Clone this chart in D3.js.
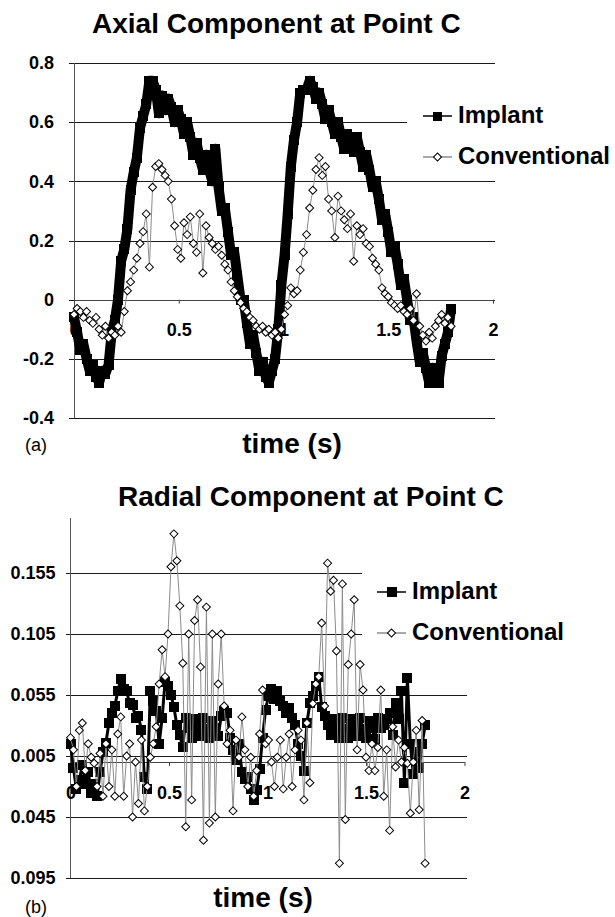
<!DOCTYPE html>
<html>
<head>
<meta charset="utf-8">
<script src="https://d3js.org/d3.v7.min.js"></script>
<style>
  body { margin: 0; background: #fff; }
</style>
</head>
<body>
<script>
/** Data: sample times (s), shared by both panels */
const time = [
  0, 0.015, 0.03, 0.045, 0.06, 0.075, 0.09, 0.105, 0.12, 0.135,
  0.15, 0.165, 0.18, 0.195, 0.21, 0.225, 0.24, 0.255, 0.27, 0.285,
  0.3, 0.315, 0.33, 0.345, 0.36, 0.375, 0.39, 0.405, 0.42, 0.435,
  0.45, 0.465, 0.48, 0.495, 0.51, 0.525, 0.54, 0.555, 0.57, 0.585,
  0.6, 0.615, 0.63, 0.645, 0.66, 0.675, 0.69, 0.705, 0.72, 0.735,
  0.75, 0.765, 0.78, 0.795, 0.81, 0.825, 0.84, 0.855, 0.87, 0.885,
  0.9, 0.915, 0.93, 0.945, 0.96, 0.975, 0.99, 1.005, 1.02, 1.035,
  1.05, 1.065, 1.08, 1.095, 1.11, 1.125, 1.14, 1.155, 1.17, 1.185,
  1.2, 1.215, 1.23, 1.245, 1.26, 1.275, 1.29, 1.305, 1.32, 1.335,
  1.35, 1.365, 1.38, 1.395, 1.41, 1.425, 1.44, 1.455, 1.47, 1.485,
  1.5, 1.515, 1.53, 1.545, 1.56, 1.575, 1.59, 1.605, 1.62, 1.635,
  1.65, 1.665, 1.68, 1.695, 1.71, 1.725, 1.74, 1.755, 1.77, 1.785,
  1.8
];

/** (a) axial component */
const axialImplant = [
  -0.06, -0.11, -0.17, -0.15, -0.20, -0.24, -0.22, -0.26, -0.28, -0.24,
  -0.25, -0.22, -0.11, -0.07, 0.00, 0.13, 0.17, 0.24, 0.37, 0.43,
  0.48, 0.58, 0.62, 0.66, 0.74, 0.74, 0.71, 0.63, 0.69, 0.64,
  0.68, 0.65, 0.60, 0.64, 0.61, 0.56, 0.60, 0.55, 0.49, 0.53,
  0.48, 0.44, 0.49, 0.44, 0.40, 0.51, 0.38, 0.30, 0.31, 0.23,
  0.15, 0.16, 0.08, 0.00, 0.00, -0.08, -0.15, -0.12, -0.18, -0.24,
  -0.21, -0.26, -0.28, -0.24, -0.20, -0.10, 0.05, 0.15, 0.29, 0.45,
  0.54, 0.60, 0.70, 0.71, 0.71, 0.74, 0.72, 0.68, 0.70, 0.66,
  0.61, 0.64, 0.60, 0.56, 0.60, 0.55, 0.51, 0.56, 0.52, 0.50,
  0.55, 0.50, 0.45, 0.49, 0.44, 0.38, 0.40, 0.34, 0.27, 0.29,
  0.23, 0.16, 0.18, 0.12, 0.05, 0.07, 0.00, -0.07, -0.06, -0.14,
  -0.21, -0.18, -0.23, -0.28, -0.23, -0.27, -0.28, -0.19, -0.15, -0.11,
  -0.03
];
const axialConventional = [
  -0.05, -0.03, -0.04, -0.06, -0.04, -0.07, -0.08, -0.06, -0.10, -0.12,
  -0.09, -0.13, -0.11, -0.12, -0.09, -0.11, -0.04, 0.03, 0.06, 0.10,
  0.14, 0.19, 0.23, 0.29, 0.11, 0.38, 0.45, 0.46, 0.44, 0.42,
  0.40, 0.34, 0.25, 0.17, 0.14, 0.26, 0.22, 0.28, 0.19, 0.16,
  0.29, 0.09, 0.25, 0.21, 0.19, 0.17, 0.18, 0.15, 0.12, 0.10,
  0.06, 0.03, 0.01, -0.01, -0.03, -0.04, -0.06, -0.07, -0.09, -0.10,
  -0.09, -0.11, -0.10, -0.12, -0.11, -0.13, -0.10, -0.05, -0.02, 0.04,
  0.02, 0.03, 0.10, 0.16, 0.22, 0.31, 0.37, 0.44, 0.48, 0.42,
  0.45, 0.34, 0.30, 0.21, 0.35, 0.30, 0.27, 0.24, 0.29, 0.13,
  0.25, 0.22, 0.24, 0.19, 0.18, 0.14, 0.12, 0.10, 0.04, 0.02,
  0.01, -0.01, -0.02, -0.03, -0.02, -0.04, -0.05, -0.03, -0.07, 0.02,
  -0.09, -0.12, -0.14, -0.11, -0.13, -0.09, -0.07, -0.05, -0.08, -0.06,
  -0.09
];

/** (b) radial component */
const radialImplant = [
  0.015, -0.005, -0.022, -0.015, -0.002, -0.018, -0.008, -0.025, -0.018, -0.028,
  -0.008, 0.008, 0.016, 0.032, 0.040, 0.046, 0.058, 0.068, 0.060, 0.058,
  0.048, 0.047, 0.036, 0.038, 0.026, -0.012, -0.022, 0.058, 0.050, 0.042,
  0.015, 0.036, 0.066, 0.062, 0.055, 0.045, 0.030, 0.022, 0.012, 0.036,
  0.028, 0.020, 0.035, 0.028, 0.021, 0.036, 0.027, 0.020, 0.034, 0.028,
  0.021, 0.038, 0.042, 0.040, 0.020, 0.010, 0.002, 0.015, -0.008, -0.014,
  -0.012, -0.022, -0.031, -0.023, -0.006, 0.020, 0.043, 0.054, 0.060, 0.052,
  0.058, 0.050, 0.046, 0.040, 0.044, 0.036, 0.030, 0.015, 0.005, -0.007,
  0.032, 0.048, 0.054, 0.062, 0.070, 0.045, 0.038, 0.030, 0.022, 0.035,
  0.028, 0.020, 0.036, 0.027, 0.020, 0.035, 0.028, 0.021, 0.036, 0.027,
  0.020, 0.034, 0.028, 0.019, 0.036, 0.028, 0.030, 0.035, 0.040, 0.022,
  0.048, 0.035, 0.058, -0.017, 0.069, 0.015, -0.010, 0.008, -0.005, 0.015,
  0.030
];
const radialConventional = [
  0.020, 0.010, -0.020, 0.026, 0.032, -0.007, 0.015, 0.004, -0.001, -0.020,
  0.007, -0.028, 0.015, -0.020, 0.010, -0.028, 0.023, 0.037, -0.028, 0.005,
  0.015, -0.045, 0.000, -0.034, 0.018, -0.040, -0.020, 0.004, 0.015, 0.029,
  0.064, 0.092, 0.070, 0.105, 0.160, 0.187, 0.165, 0.128, 0.081, -0.053,
  0.105, -0.031, 0.116, 0.133, 0.078, -0.064, 0.127, -0.050, 0.105, -0.045,
  0.064, 0.105, 0.046, 0.015, 0.026, -0.040, 0.018, 0.004, 0.037, 0.010,
  -0.020, 0.004, -0.028, -0.007, 0.023, 0.059, 0.015, 0.018, 0.000, -0.020,
  0.004, 0.018, -0.022, 0.004, 0.023, -0.020, 0.010, 0.026, 0.018, -0.031,
  0.032, -0.017, 0.048, 0.064, 0.070, 0.114, 0.046, 0.163, 0.140, 0.149,
  0.091, -0.083, 0.146, -0.047, 0.080, 0.105, 0.133, 0.010, 0.080, 0.059,
  0.004, -0.007, 0.015, -0.007, 0.012, 0.059, -0.028, 0.010, -0.056, 0.029,
  -0.004, 0.018, 0.000, 0.012, -0.001, -0.042, 0.000, 0.026, -0.039, 0.034,
  -0.083
];

/** Axis ticks and labels */
const xTicks = [0, 0.5, 1, 1.5, 2];
const xTickLabels = ["0", "0.5", "1", "1.5", "2"];
const axialYTicks = [-0.4, -0.2, 0, 0.2, 0.4, 0.6, 0.8];
const axialYLabels = ["-0.4", "-0.2", "0", "0.2", "0.4", "0.6", "0.8"];
const radialYTicks = [-0.095, -0.045, 0.005, 0.055, 0.105, 0.155];
const radialYLabels = ["0.095", "0.045", "0.005", "0.055", "0.105", "0.155"];
const seriesNames = ["Implant", "Conventional"];

/** Layout */
const width = 615;
const height = 917;
const fontFamily = "'Liberation Sans', Arial, Helvetica, sans-serif";
const gridColor = "#1a1a1a";
const conventionalLine = "#8c8c8c";

const panels = [
  {
    title: "Axial Component at Point C", tag: "(a)",
    implant: axialImplant, conventional: axialConventional,
    yTicks: axialYTicks, yLabels: axialYLabels, yDomain: [-0.4, 0.8],
    xRange: [74, 493], yRange: [418, 63], yPad: 15,
    titleX: 92, titleY: 33, axisTitleX: 292, axisTitleY: 453, tagY: 451,
    legendBox: [407, 86, 208, 90], legendY: [116, 157], legendX: 423,
    square: 10, legendSquare: 9, diamond: 8, implantWidth: 10
  },
  {
    title: "Radial Component at Point C", tag: "(b)",
    implant: radialImplant, conventional: radialConventional,
    yTicks: radialYTicks, yLabels: radialYLabels, yDomain: [-0.095, 0.2],
    xRange: [70.5, 464.5], yRange: [878, 518], yPad: 10,
    titleX: 118, titleY: 506, axisTitleX: 263, axisTitleY: 907, tagY: 913,
    legendBox: [362, 560, 253, 98], legendY: [592, 633], legendX: 377,
    square: 10, legendSquare: 10, diamond: 8, implantWidth: 3
  }
];

// filled square marker
function drawSquare(sel, size) {
  return sel.attr("width", size).attr("height", size)
    .attr("fill", "#000")
    .attr("shape-rendering", "crispEdges");
}

// hollow diamond = square symbol turned by 45 degrees
function diamondPath(size) {
  return d3.symbol(d3.symbolSquare, (size * size) / 2)();
}

function drawPanel(svg, p) {
  const x = d3.scaleLinear().domain([0, 2]).range(p.xRange);
  const y = d3.scaleLinear().domain(p.yDomain).range(p.yRange);
  const x0 = p.xRange[0];
  const gridLeft = x0 - 5;
  const gridRight = p.xRange[1] + 2;

  // gridlines + y tick labels
  svg.append("g")
    .attr("transform", "translate(" + gridLeft + ",0)")
    .call(d3.axisLeft(y)
      .tickValues(p.yTicks)
      .tickFormat((d, i) => p.yLabels[i])
      .tickSize(-(gridRight - gridLeft))
      .tickPadding(p.yPad))
    .attr("font-family", fontFamily)
    .attr("font-size", 18)
    .attr("font-weight", "bold")
    .call(g => g.select(".domain").remove())
    .call(g => g.selectAll("line").attr("stroke", gridColor).attr("shape-rendering", "crispEdges"))
    .call(g => g.selectAll("text").attr("fill", "#000"));

  // vertical axis
  svg.append("line")
    .attr("x1", x0).attr("x2", x0)
    .attr("y1", p.yRange[1]).attr("y2", p.yRange[0])
    .attr("stroke", "#555")
    .attr("shape-rendering", "crispEdges");

  // time axis crossing at zero
  svg.append("g")
    .attr("transform", "translate(0," + y(0) + ")")
    .call(d3.axisBottom(x)
      .tickValues(xTicks)
      .tickFormat((d, i) => xTickLabels[i])
      .tickSizeInner(4)
      .tickSizeOuter(0)
      .tickPadding(20))
    .attr("font-family", fontFamily)
    .attr("font-size", 18)
    .attr("font-weight", "bold")
    .call(g => g.select(".domain").attr("stroke", "#444").attr("shape-rendering", "crispEdges"))
    .call(g => g.selectAll("line").attr("stroke", "#444"))
    .call(g => g.selectAll("text").attr("fill", "#000"));

  const line = d3.line()
    .x((d, i) => x(time[i]))
    .y(d => y(d));

  // Implant: markers sit so close together that they merge into a band
  svg.append("path")
    .datum(p.implant)
    .attr("d", line)
    .attr("fill", "none")
    .attr("stroke", "#000")
    .attr("stroke-width", p.implantWidth)
    .attr("stroke-linejoin", "round");
  svg.append("g").selectAll("rect")
    .data(p.implant)
    .join("rect")
    .attr("x", (d, i) => x(time[i]) - p.square / 2)
    .attr("y", d => y(d) - p.square / 2)
    .call(drawSquare, p.square);

  // Conventional: grey line + hollow diamonds
  svg.append("path")
    .datum(p.conventional)
    .attr("d", line)
    .attr("fill", "none")
    .attr("stroke", conventionalLine)
    .attr("stroke-width", 1);
  svg.append("g").selectAll("path")
    .data(p.conventional)
    .join("path")
    .attr("d", diamondPath(p.diamond))
    .attr("transform", (d, i) => "translate(" + x(time[i]) + "," + y(d) + ") rotate(45)")
    .attr("fill", "#fff")
    .attr("stroke", "#000")
    .attr("stroke-width", 1);

  // legend (white box hides the gridlines behind it)
  const lb = p.legendBox;
  const legend = svg.append("g");
  legend.append("rect")
    .attr("x", lb[0]).attr("y", lb[1])
    .attr("width", lb[2]).attr("height", lb[3])
    .attr("fill", "#fff");
  seriesNames.forEach((name, k) => {
    const ly = p.legendY[k];
    const mx = p.legendX + 14.5;
    legend.append("line")
      .attr("x1", p.legendX).attr("x2", p.legendX + 29)
      .attr("y1", ly).attr("y2", ly)
      .attr("stroke", k === 0 ? "#000" : conventionalLine)
      .attr("stroke-width", 1.5);
    if (k === 0) {
      legend.append("rect")
        .attr("x", mx - p.legendSquare / 2)
        .attr("y", ly - p.legendSquare / 2)
        .call(drawSquare, p.legendSquare);
    } else {
      legend.append("path")
        .attr("d", diamondPath(p.diamond))
        .attr("transform", "translate(" + mx + "," + ly + ") rotate(45)")
        .attr("fill", "#fff")
        .attr("stroke", "#000");
    }
    legend.append("text")
      .attr("x", p.legendX + 35)
      .attr("y", ly + 7)
      .attr("font-family", fontFamily)
      .attr("font-size", 24)
      .attr("font-weight", "bold")
      .text(name);
  });

  // titles
  svg.append("text")
    .attr("x", p.titleX).attr("y", p.titleY)
    .attr("font-family", fontFamily)
    .attr("font-size", 28)
    .attr("font-weight", "bold")
    .text(p.title);
  svg.append("text")
    .attr("x", p.axisTitleX).attr("y", p.axisTitleY)
    .attr("text-anchor", "middle")
    .attr("font-family", fontFamily)
    .attr("font-size", 28)
    .attr("font-weight", "bold")
    .text("time (s)");
  svg.append("text")
    .attr("x", 25).attr("y", p.tagY)
    .attr("font-family", fontFamily)
    .attr("font-size", 18)
    .text(p.tag);
}

document.addEventListener("DOMContentLoaded", function () {
  const svg = d3.select("body").append("svg")
    .attr("width", width)
    .attr("height", height)
    .style("display", "block")
    .style("background", "#fff");

  panels.forEach(p => drawPanel(svg, p));
});
</script>
</body>
</html>
